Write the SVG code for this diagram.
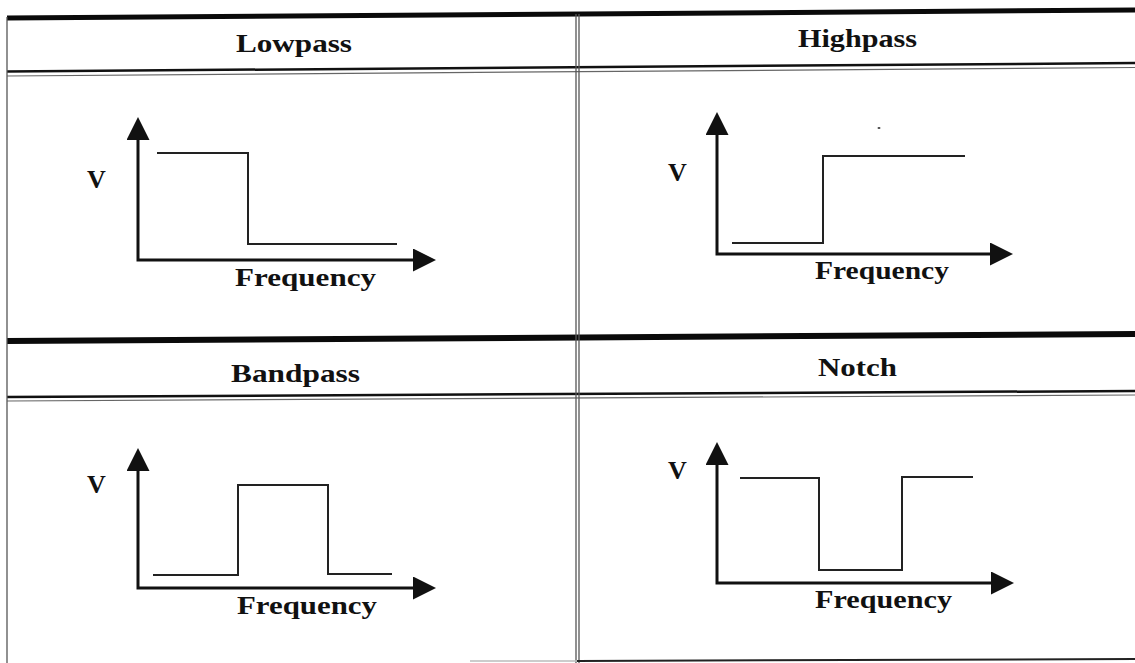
<svg xmlns="http://www.w3.org/2000/svg" width="1135" height="663" viewBox="0 0 1135 663">
<style>
.bg{fill:#fff}
.thick{stroke:#0a0a0a;fill:none}
.rule{stroke:#111;stroke-width:2.5;fill:none}
.rule2{stroke:#666;stroke-width:1.2;fill:none}
.vrule{stroke:#555;stroke-width:1.3;fill:none}
.hdr{font-family:"Liberation Serif","Times New Roman",serif;font-weight:bold;font-size:25px;fill:#111}
.lbl{font-family:"Liberation Serif","Times New Roman",serif;font-weight:bold;font-size:26px;fill:#111}
.v{font-family:"Liberation Serif","Times New Roman",serif;font-weight:bold;font-size:26px;fill:#111}
.axis{stroke:#111;stroke-width:3;fill:none;marker-start:url(#ah);marker-end:url(#ah)}
.resp{stroke:#222;stroke-width:2;fill:none}
</style>
<defs>
<marker id="ah" viewBox="0 0 23 23" refX="10" refY="11.5" markerWidth="23" markerHeight="23" markerUnits="userSpaceOnUse" orient="auto-start-reverse">
<path d="M0,0 L23,11.5 L0,23 Z" fill="#111"/>
</marker>
</defs>
<rect class="bg" x="0" y="0" width="1135" height="663"/>
<g id="grid">
<line class="thick" stroke-width="5" x1="7" y1="18" x2="1135" y2="10"/>
<line class="rule" x1="7" y1="71.5" x2="1135" y2="63"/>
<line class="rule2" x1="7" y1="76" x2="1135" y2="67.5"/>
<line class="thick" stroke-width="6" x1="7" y1="341" x2="1135" y2="334"/>
<line class="rule" x1="7" y1="397" x2="1135" y2="391"/>
<line class="rule2" x1="7" y1="401" x2="1135" y2="395"/>
<line class="vrule" x1="7" y1="17" x2="7" y2="663"/>
<line class="vrule" x1="576" y1="14" x2="576" y2="663"/>
<line class="vrule" x1="579" y1="14" x2="579" y2="663"/>
<line stroke="#bbb" stroke-width="1.5" x1="470" y1="661" x2="577" y2="661"/>
<line stroke="#222" stroke-width="2" x1="577" y1="661" x2="1135" y2="659"/>
</g>
<g id="lowpass">
<text class="hdr" x="236" y="52" textLength="116" lengthAdjust="spacingAndGlyphs">Lowpass</text>
<text class="v" x="87" y="188">V</text>
<path class="axis" d="M138 130 L138 260 L423 260"/>
<path class="resp" d="M157 153 L248 153 L248 244 L397 244"/>
<text class="lbl" x="235" y="286" textLength="141" lengthAdjust="spacingAndGlyphs">Frequency</text>
</g>
<g id="highpass">
<text class="hdr" x="798" y="47" textLength="119" lengthAdjust="spacingAndGlyphs">Highpass</text>
<text class="v" x="668" y="181">V</text>
<path class="axis" d="M717 125 L717 254 L1000 254"/>
<path class="resp" d="M732 243 L823 243 L823 156 L965 156"/>
<ellipse cx="879" cy="128" rx="1.5" ry="1" fill="#444"/>
<text class="lbl" x="815" y="279" textLength="134" lengthAdjust="spacingAndGlyphs">Frequency</text>
</g>
<g id="bandpass">
<text class="hdr" x="231" y="382" textLength="129" lengthAdjust="spacingAndGlyphs">Bandpass</text>
<text class="v" x="87" y="493">V</text>
<path class="axis" d="M138 461 L138 588 L423 588"/>
<path class="resp" d="M153 575 L238 575 L238 485 L328 485 L328 574 L392 574"/>
<text class="lbl" x="237" y="614" textLength="140" lengthAdjust="spacingAndGlyphs">Frequency</text>
</g>
<g id="notch">
<text class="hdr" x="818" y="376" textLength="79" lengthAdjust="spacingAndGlyphs">Notch</text>
<text class="v" x="668" y="479">V</text>
<path class="axis" d="M717 455 L717 583 L1001 583"/>
<path class="resp" d="M740 478 L819 478 L819 570 L902 570 L902 477 L973 477"/>
<text class="lbl" x="815" y="608" textLength="137" lengthAdjust="spacingAndGlyphs">Frequency</text>
</g>
<g id="connectors"></g>
</svg>
